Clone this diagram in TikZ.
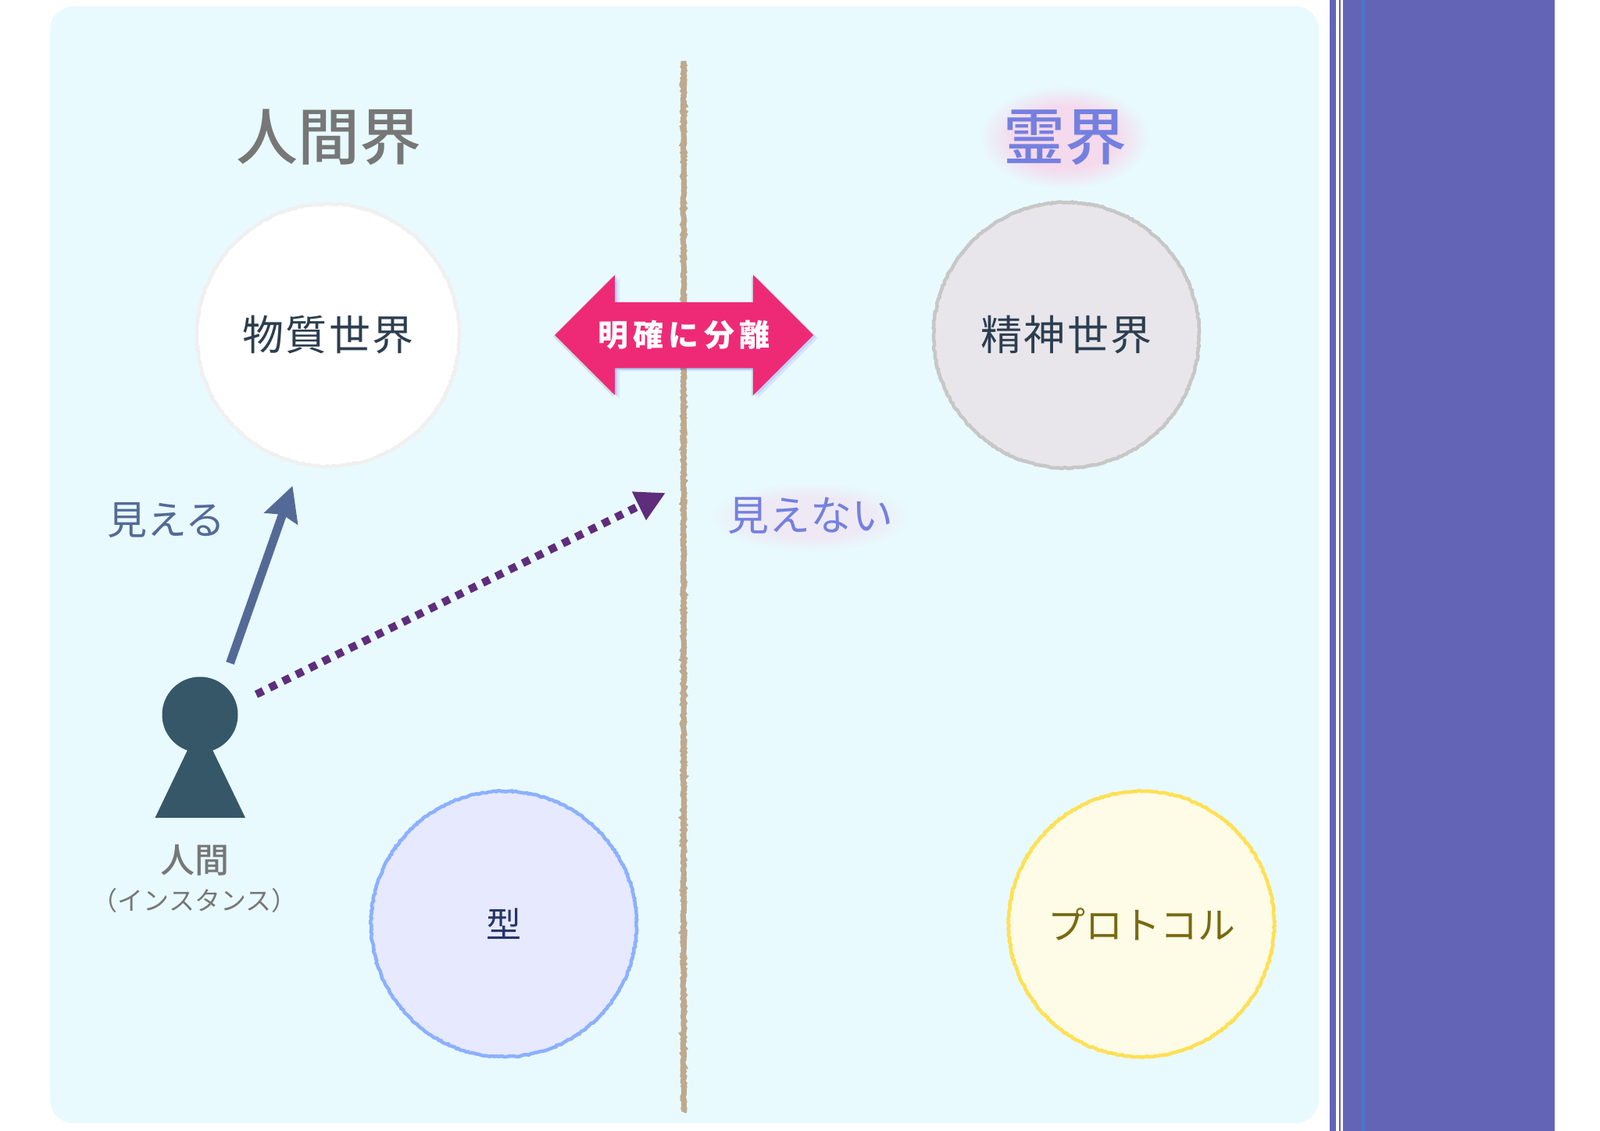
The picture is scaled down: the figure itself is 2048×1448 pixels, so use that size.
\documentclass[tikz,border=0pt]{standalone}
\usepackage{fontspec}
\setmainfont{Noto Sans CJK JP}
\newfontfamily\jpmedium{Noto Sans CJK JP Medium}
\usetikzlibrary{positioning,arrows.meta,shapes.arrows,shadows,fadings,decorations.pathmorphing}
\definecolor{panelc}{HTML}{E8FAFE}
\definecolor{barc}{HTML}{6364B5}
\definecolor{stripec}{HTML}{4A78C8}
\definecolor{dividerc}{HTML}{BFA98E}
\definecolor{greyc}{HTML}{777777}
\definecolor{spiritc}{HTML}{7480E0}
\definecolor{glowc}{HTML}{FFC4E0}
\definecolor{inkc}{HTML}{2C3E50}
\definecolor{personc}{HTML}{365768}
\definecolor{seec}{HTML}{546A96}
\definecolor{unseenc}{HTML}{5F2D7B}
\definecolor{bridgec}{HTML}{EE2A76}
\newcommand{\fsz}[1]{\fontsize{#1}{#1}\selectfont}
\pgfdeclareradialshading{softglowshade}{\pgfpointorigin}{color(0pt)=(pgftransparent!0); color(15pt)=(pgftransparent!0); color(25pt)=(pgftransparent!100); color(50pt)=(pgftransparent!100)}
\pgfdeclarefading{softglow}{\pgfuseshading{softglowshade}}

\begin{document}
\begin{tikzpicture}[
				x=1pt,y=-1pt,
				world/.style={
					circle,
					draw,
					inner sep=0pt,
					minimum size=340pt,
					line width=4.5pt,
					decorate,
					decoration={random steps,segment length=2.5pt,amplitude=0.8pt},
					text=inkc,
					font=\fsz{53}\addfontfeature{LetterSpace=5}
				},
				title/.style={
					inner sep=0pt,
					font=\jpmedium\fsz{79}
				},
				glow/.style={
					glowc,
					path fading=softglow
				},
				seen/.style={
					-{Stealth[length=44pt,width=44pt,inset=5pt]},
					seec,
					line width=11pt
				},
				unseen/.style={
					-{Triangle[length=38pt,width=38pt]},
					unseenc,
					line width=10pt,
					dash pattern=on 10pt off 9pt
				}
			]
			\useasboundingbox (0,0) rectangle (2048,1448);
			\fill[white] (0,0) rectangle (2048,1448);
			\fill[panelc,rounded corners=30pt] (64,8) rectangle (1688,1438);
			\fill[barc] (1702,0) rectangle (1710,1448);
			\fill[barc] (1714,0) rectangle (1716,1448);
			\fill[barc] (1719,0) rectangle (1990,1448);
			\fill[stripec] (1743,0) rectangle (1747,1448);

			\coordinate (divtop) at (875,78);
			\coordinate (divbot) at (875,1424);
			\draw[dividerc,line width=7pt,decorate,decoration={random steps,segment length=2pt,amplitude=1.1pt}] (divtop) -- (divbot);

			\fill[glow,opacity=0.6] (1363,176) ellipse [x radius=108pt,y radius=66pt];
			\fill[glow,opacity=0.3] (1037,662) ellipse [x radius=128pt,y radius=44pt];
			\node[title,text=greyc] (human) at (421,176) {人間界};
			\node[title,text=spiritc] (spirit) at (1363,176) {霊界};

			\node[world,fill=white,draw=black!6,minimum size=336pt] (matter) at (420,429) {物質世界};
			\node[world,fill={rgb,255:red,232;green,230;blue,234},draw=black!22] (mind) at (1365,429) {精神世界};
			\node[world,fill={rgb,255:red,230;green,233;blue,255},draw={rgb,255:red,140;green,176;blue,255},text={rgb,255:red,38;green,52;blue,104},font=\fsz{45}] (type) at (645,1183) {型};
			\node[world,fill={rgb,255:red,254;green,251;blue,230},draw={rgb,255:red,255;green,224;blue,85},text={rgb,255:red,119;green,106;blue,16},font=\fsz{48}] (proto) at (1461,1183) {プロトコル};

			\node[double arrow,double arrow head extend=35pt,minimum height=331pt,inner sep=0pt,
				text height=42pt,text depth=42pt,fill=bridgec,text=white,font=\fsz{39}\bfseries,
				general shadow={fill=blue!70!white,opacity=0.10,shadow xshift=6pt,shadow yshift=-4pt},
				general shadow={fill=blue!70!white,opacity=0.15,shadow xshift=3pt,shadow yshift=-2pt},
				general shadow={fill=black,opacity=0.10,shadow xshift=-2pt,shadow yshift=-2pt}] (split) at (875.5,429)
				{\raisebox{-0.38em}{明\,確\,に\,分\,離}};

			\fill[personc] (256,927) -- (314,1047) -- (198.5,1047) -- cycle;
			\node[circle,fill=personc,inner sep=0pt,minimum size=97pt] (head) at (256,915) {};

			\coordinate (seefrom) at (294.5,849);
			\coordinate (seeto) at (374.5,622);
			\draw[seen] (seefrom) -- (seeto);
			\coordinate (hidefrom) at (328,889);
			\coordinate (hideto) at (852,631);
			\draw[unseen] (hidefrom) -- (hideto);

			\node[inner sep=0pt,text=seec,font=\fsz{51}] (seelabel) at (213,666) {見える};
			\node[inner sep=0pt,text=spiritc,font=\fsz{53}] (hidelabel) at (1037,660) {見えない};
			\node[inner sep=0pt,text=greyc,font=\jpmedium\fsz{44}] (person) at (249,1101) {人間};
			\node[inner sep=0pt,text=greyc,font=\fsz{33},below=16pt of person] (instance) {（インスタンス）};
		\end{tikzpicture}
\end{document}
